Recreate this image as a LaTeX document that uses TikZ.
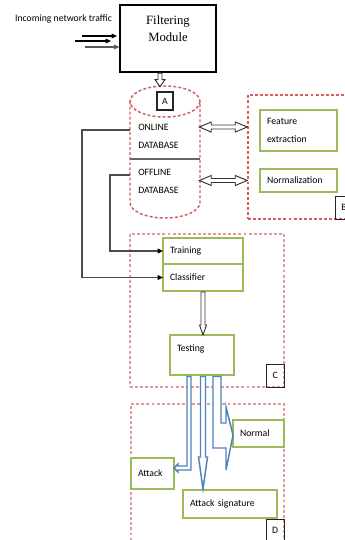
\documentclass[tikz,border=0pt]{standalone}
\usepackage{fontspec}
\setmainfont{Carlito}
\newfontfamily\serifbox{Liberation Serif}
\usepackage{tikz}
\usetikzlibrary{
  arrows.meta,
  positioning,  % Function "of" (e.g. [below=of x])
  calc,         % Calculations $...$
}
\definecolor{boxgreen}{HTML}{9BBB59}
\definecolor{flowblue}{HTML}{4F81BD}
\definecolor{dashred}{HTML}{D25E5E}
\definecolor{dashpink}{HTML}{E39A9A}
\def\mysize{\fontsize{7.3}{13}\selectfont}
% Hollow arrow with two heads, given by its right tip
\newcommand{\twoway}[1]{
  \draw[my hollow] #1 -- ++(-12,-5) -- ++(0,3) -- ++(-24,0) -- ++(0,-3)
    -- ++(-12,5) -- ++(12,5) -- ++(0,-3) -- ++(24,0) -- ++(0,3) -- cycle;
}
\tikzset{
  my box/.style={
    draw=boxgreen,
    line width=1.6pt,
    outer sep=0pt,
    inner xsep=5.25pt,
    align=left,
    font=\mysize
  },
  my tag/.style={
    draw=black!85,
    line width=0.9pt,
    minimum width=13.5pt,
    minimum height=17.25pt,
    inner sep=0pt,
    font=\mysize
  },
  my region/.style={
    draw=dashpink,
    dash pattern=on 2.2pt off 1.6pt,
    line width=1.1pt,
    inner sep=0pt
  },
  my hollow/.style={
    draw=black!80,
    line width=0.7pt,
    fill=white
  },
  my flow/.style={
    draw=flowblue,
    line width=1.1pt,
    fill=white
  },
  my link/.style={
    draw=black!70,
    line width=0.9pt,
    -{Triangle[length=4pt,width=3.5pt,black]}
  },
  my input/.style={
    line width=0.8pt,
    -{Triangle[length=4pt,width=3.5pt]}
  }
}
\begin{document}
\begin{tikzpicture}[x=0.75pt,y=-0.75pt]
\useasboundingbox (0,0) rectangle (344,540);
% input and filtering
\node[draw=black,line width=0.9pt,minimum width=72pt,minimum height=50.25pt,
  font=\serifbox\fontsize{9.5}{12.5}\selectfont,align=center,text depth=15pt]
  (filter) at (168,38.5) {Filtering\\Module};
\node[font=\mysize] (incoming) at (63.5,19) {Incoming network traffic};
\coordinate (in1) at (82,36);  \coordinate (out1) at (117,36);
\coordinate (in2) at (75,41);  \coordinate (out2) at (111,41);
\coordinate (in3) at (85,47);  \coordinate (out3) at (filter.west |- in3);
\draw[my input] (in1) -- (out1);
\draw[my input] (in2) -- (out2);
\draw[my input,draw=black!65] (in3) -- (out3);
% database cylinder
\coordinate (dbtop) at (165,101.5);
\draw[my region,draw=dashred] (dbtop) ellipse [x radius=35,y radius=15.5];
\draw[my region,draw=dashred] ($(dbtop)+(-35,0)$) -- ++(0,101)
  arc [start angle=180,end angle=0,x radius=35,y radius=15.5] -- ($(dbtop)+(35,0)$);
\draw[black!60,line width=0.8pt] ($(dbtop)+(-35,57.5)$) -- ++(70,0);
\node[my tag,minimum width=12pt,minimum height=13.5pt] (tagA) at (165,101) {A};
\node[font=\mysize,align=left,anchor=west,inner xsep=6pt] (online)  at (130,136.5) {ONLINE\\DATABASE};
\node[font=\mysize,align=left,anchor=west,inner xsep=6pt] (offline) at (130,181.5) {OFFLINE\\DATABASE};
\draw[my hollow] ($(filter.south)+(-10,0.6)$) -- ++(0,6.4) -- ++(-3,0) -- ++(5,7)
  -- ++(5,-7) -- ++(-3,0) -- ++(0,-6.4) -- cycle;
% preprocessing
\node[my region,draw=dashred,minimum width=78.75pt,minimum height=93pt] (regB) at (300.5,157) {};
\node[my tag,anchor=south east] (tagB) at (regB.south east) {B};
\node[my box,minimum width=57.75pt,minimum height=30.75pt,text width=47.25pt]
  (feat) at (298.5,130.5) {Feature\\extraction};
\node[my box,minimum width=57.75pt,minimum height=17.25pt,text width=47.25pt,
  below=13.5pt of feat] (norm) {Normalization};
\twoway{($(regB.west |- feat.west)+(0,-3.5)$)}
\twoway{(regB.west |- norm.west)}
% training
\node[my region,minimum width=115.5pt,minimum height=114.75pt] (regC) at (207,310.5) {};
\node[my tag,anchor=south east] (tagC) at (regC.south east) {C};
\node[my box,minimum width=60pt,minimum height=19.5pt,text width=49.5pt] (train) at (203,251) {Training};
\node[my box,minimum width=60pt,minimum height=20.25pt,text width=49.5pt,
  below=0pt of train] (class) {Classifier};
\node[my box,minimum width=48pt,minimum height=30pt,text width=37.5pt,text depth=10.5pt]
  (test) at (202,355) {Testing};
\draw[my link] ($(online.west)+(0,-6.5)$) -- ++(-48,0) |- (class.west);
\draw[my link] ($(offline.west)+(0,-6.5)$) -- ++(-20,0) |- (train.west);
\draw[my hollow] ($(class.south)+(-2,1)$) -- ++(0,33) -- ++(-1.5,0) -- ++(3.5,10)
  -- ++(3.5,-10) -- ++(-1.5,0) -- ++(0,-33) -- cycle;
% results
\node[my region,minimum width=114.75pt,minimum height=103.5pt] (regD) at (207.5,473) {};
\node[my tag,anchor=south east] (tagD) at (regD.south east) {D};
\node[my box,minimum width=38.25pt,minimum height=20.25pt,text width=27.75pt] (normal) at (258.5,433.5) {Normal};
\node[my box,minimum width=32.25pt,minimum height=23.25pt,text width=21.75pt] (attack) at (152.5,473.5) {Attack};
\node[my box,minimum width=70.5pt,minimum height=21pt,text width=60pt] (sig) at (230,504) {Attack signature};
\draw[my flow] ($(test.south)+(-15,1.5)$) -- ++(0,89.5) -- ++(-9,0) -- ++(0,-2)
  -- ++(-4,4) -- ++(4,4) -- ++(0,-2) -- ++(13,0) -- ++(0,-93.5) -- cycle;
\draw[my flow] ($(test.south)+(-1.5,1.5)$) -- ++(0,80.5) -- ++(-2,0) -- ++(4.5,32)
  -- ++(4.5,-32) -- ++(-2,0) -- ++(0,-80.5) -- cycle;
\draw[my flow] ($(test.south)+(11,1.5)$) -- ++(0,71.5) -- ++(13,0) -- ++(0,22)
  -- ++(7,-35) -- ++(-7,-28) -- ++(0,16) -- ++(-5,0) -- ++(0,-46.5) -- cycle;
\end{tikzpicture}
\end{document}
